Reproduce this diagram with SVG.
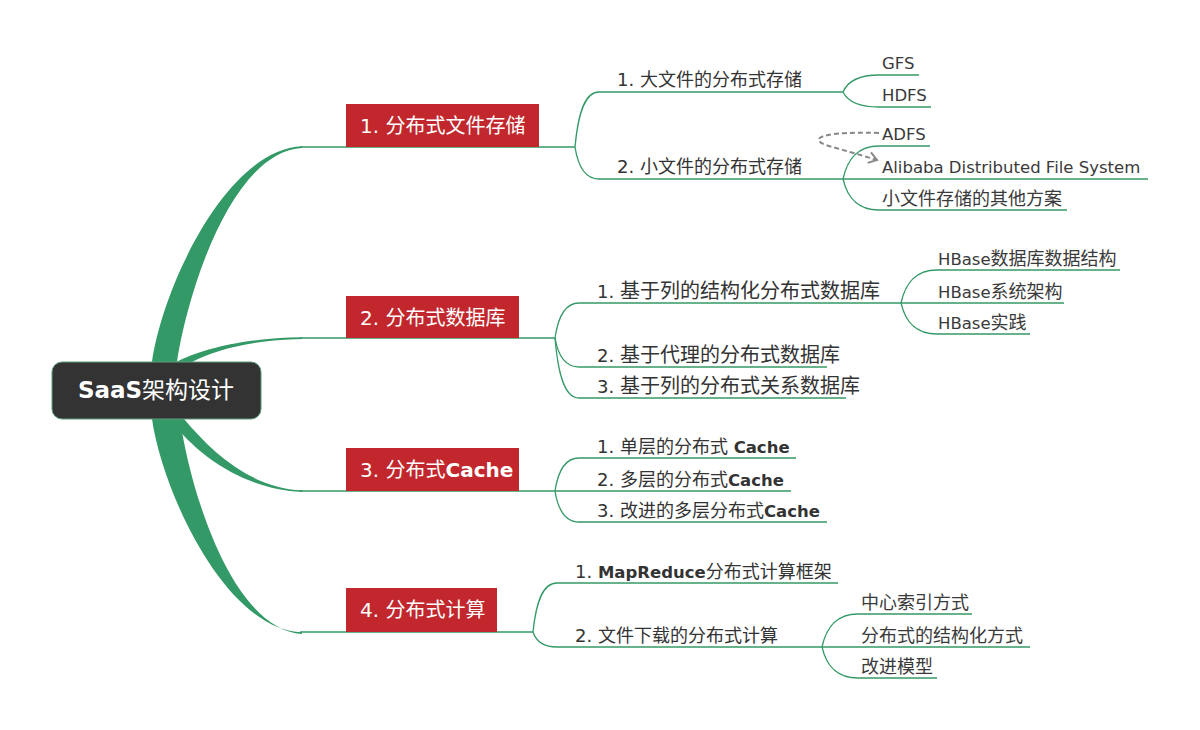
<svg xmlns="http://www.w3.org/2000/svg" width="1200" height="730" viewBox="0 0 1200 730">
<defs>
<style>
.conn{fill:none;stroke:#339966;stroke-width:1.3}
.br{fill:#339966}
.txt{font-family:"DejaVu Sans","Noto Sans CJK SC",sans-serif}
.t2{font-size:18px;fill:#333}
.t2b{font-size:20px;fill:#333}
.t3{font-size:18px;fill:#3a3a3a}
.lat{font-size:16.5px}
.pre{font-size:18px}
.b{font-weight:bold;font-size:16.5px}
.box{fill:#c1272d}
.tb{font-size:20px;fill:#fff}
.dash{fill:none;stroke:#888;stroke-width:2;stroke-dasharray:5 3}
</style>
<marker id="arr" markerWidth="14" markerHeight="14" refX="10" refY="7" orient="auto" markerUnits="userSpaceOnUse">
<path d="M2,1.5 L10,7 L2,12.5" fill="none" stroke="#888" stroke-width="2"/>
</marker>
</defs>
<rect width="1200" height="730" fill="#fff"/>

<g id="connectors">
<path class="br" d="M152,362 C162,290 225,150 302,146.3 L302,148 C232,152 188,290 177,362 Z"/>
<path class="br" d="M176,362 C200,350 240,338 302,337.3 L302,339 C250,340 215,350 192,362 Z"/>
<path class="br" d="M184,419 C212,452 250,488 302,490.3 L302,492 C250,490 200,460 170,419 Z"/>
<path class="br" d="M152,419 C162,490 225,630 302,632.3 L302,634 C232,629 190,490 180,419 Z"/>

<path class="conn" d="M300,147 H575"/>
<path class="conn" d="M575,147 C577.9,115.1 584.1,92 599,92 H843"/>
<path class="conn" d="M575,147 C577.9,165.6 584.1,179 599,179 H1148"/>
<path class="conn" d="M843,92 C847.3,82.1 856.7,75 879,75 H919"/>
<path class="conn" d="M843,92 C847.3,100.7 856.7,107 879,107 H931"/>
<path class="conn" d="M843,179 C847.3,159.9 856.7,146 879,146 H930"/>
<path class="conn" d="M843,179 C847.3,197 856.7,210 879,210 H1067"/>

<path class="conn" d="M300,338 H555"/>
<path class="conn" d="M555,338 C557.9,317.7 564.1,303 579,303 H1064"/>
<path class="conn" d="M555,338 C557.9,354.8 564.1,367 579,367 H827"/>
<path class="conn" d="M555,338 C557.9,372.8 564.1,398 579,398 H846"/>
<path class="conn" d="M901,303 C905.3,283.9 914.7,270 937,270 H1120"/>
<path class="conn" d="M901,303 C905.3,321 914.7,334 937,334 H1030"/>

<path class="conn" d="M300,491 H791"/>
<path class="conn" d="M555,491 C557.9,471.9 564.1,458 579,458 H796"/>
<path class="conn" d="M555,491 C557.9,509 564.1,522 579,522 H827"/>

<path class="conn" d="M300,632 H533"/>
<path class="conn" d="M533,632 C535.9,603.6 542.1,583 557,583 H838"/>
<path class="conn" d="M533,632 C535.9,640.7 542.1,647 557,647 H1030"/>
<path class="conn" d="M822,647 C826.3,627.9 835.7,614 858,614 H972"/>
<path class="conn" d="M822,647 C826.3,665 835.7,678 858,678 H937"/>

<path class="dash" d="M879,133 C812,131 806,141 836,148 C850,152 864,156 877,160" marker-end="url(#arr)"/>
</g>

<g id="root">
<rect x="52" y="362" width="209" height="57" rx="10" fill="#333" stroke="#5c9c7c" stroke-width="1"/>
<text class="txt" x="156" y="398" text-anchor="middle" font-size="23" fill="#fff"><tspan font-weight="bold">SaaS</tspan>架构设计</text>
</g>

<g id="n1">
<rect class="box" x="346" y="104" width="193" height="43"/>
<text class="txt tb" x="360" y="132.5">1. 分布式文件存储</text>
</g>
<g id="n1-1"><text class="txt t2" x="617" y="86">1. 大文件的分布式存储</text></g>
<g id="n1-1-1"><text class="txt t3 lat" x="882" y="69">GFS</text></g>
<g id="n1-1-2"><text class="txt t3 lat" x="882" y="101">HDFS</text></g>
<g id="n1-2"><text class="txt t2" x="617" y="173">2. 小文件的分布式存储</text></g>
<g id="n1-2-1"><text class="txt t3 lat" x="882" y="140">ADFS</text></g>
<g id="n1-2-2"><text class="txt t3 lat" x="882" y="173">Alibaba Distributed File System</text></g>
<g id="n1-2-3"><text class="txt t3" x="882" y="205">小文件存储的其他方案</text></g>

<g id="n2">
<rect class="box" x="346" y="296" width="173" height="42"/>
<text class="txt tb" x="360" y="324.5">2. 分布式数据库</text>
</g>
<g id="n2-1"><text class="txt t2b" x="597" y="298"><tspan class="pre">1. </tspan>基于列的结构化分布式数据库</text></g>
<g id="n2-1-1"><text class="txt t3" x="938" y="265"><tspan class="lat">HBase</tspan>数据库数据结构</text></g>
<g id="n2-1-2"><text class="txt t3" x="938" y="298"><tspan class="lat">HBase</tspan>系统架构</text></g>
<g id="n2-1-3"><text class="txt t3" x="938" y="329"><tspan class="lat">HBase</tspan>实践</text></g>
<g id="n2-2"><text class="txt t2b" x="597" y="362"><tspan class="pre">2. </tspan>基于代理的分布式数据库</text></g>
<g id="n2-3"><text class="txt t2b" x="597" y="393"><tspan class="pre">3. </tspan>基于列的分布式关系数据库</text></g>

<g id="n3">
<rect class="box" x="346" y="448" width="173" height="43"/>
<text class="txt tb" x="360" y="477">3. 分布式<tspan font-weight="bold">Cache</tspan></text>
</g>
<g id="n3-1"><text class="txt t2" x="597" y="453">1. 单层的分布式 <tspan class="b">Cache</tspan></text></g>
<g id="n3-2"><text class="txt t2" x="597" y="486">2. 多层的分布式<tspan class="b">Cache</tspan></text></g>
<g id="n3-3"><text class="txt t2" x="597" y="517">3. 改进的多层分布式<tspan class="b">Cache</tspan></text></g>

<g id="n4">
<rect class="box" x="346" y="588" width="151" height="44"/>
<text class="txt tb" x="360" y="617">4. 分布式计算</text>
</g>
<g id="n4-1"><text class="txt t2" x="575" y="578">1. <tspan class="b">MapReduce</tspan>分布式计算框架</text></g>
<g id="n4-2"><text class="txt t2" x="575" y="642">2. 文件下载的分布式计算</text></g>
<g id="n4-2-1"><text class="txt t3" x="861" y="609">中心索引方式</text></g>
<g id="n4-2-2"><text class="txt t3" x="861" y="642">分布式的结构化方式</text></g>
<g id="n4-2-3"><text class="txt t3" x="861" y="673">改进模型</text></g>
</svg>
